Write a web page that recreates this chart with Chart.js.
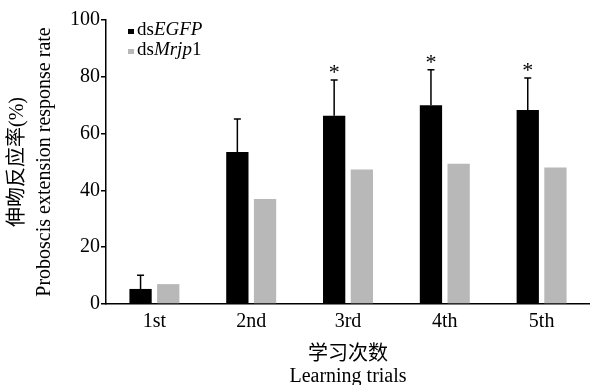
<!DOCTYPE html>
<html>
<head>
<meta charset="utf-8">
<script src="https://cdn.jsdelivr.net/npm/chart.js@4/dist/chart.umd.min.js"></script>
<style>
  body { margin: 0; background: #fff; }
</style>
</head>
<body>
<canvas id="myChart" width="590" height="385"></canvas>
<script>
const trials = ["1st", "2nd", "3rd", "4th", "5th"];
const egfpValues = [5.3, 53.5, 66.3, 70.0, 68.3];
const egfpErrors = [4.8, 11.6, 12.6, 12.5, 11.3];
const mrjpValues = [7.0, 37.0, 47.4, 49.4, 48.1];
const marks = ["", "", "*", "*", "*"];
const yTicks = [0, 20, 40, 60, 80, 100];

const serif = "'Liberation Serif', 'Noto Sans CJK SC', serif";

// error bars (upper only) + significance stars
const errorBars = {
    id: 'errorBars',
    afterDatasetsDraw(chart) {
        const ctx = chart.ctx;
        const y = chart.scales.y;
        const meta = chart.getDatasetMeta(0);
        ctx.save();
        ctx.strokeStyle = '#000';
        ctx.lineWidth = 1.5;
        meta.data.forEach((bar, i) => {
            const top = y.getPixelForValue(egfpValues[i] + egfpErrors[i]);
            ctx.beginPath();
            ctx.moveTo(bar.x, bar.y);
            ctx.lineTo(bar.x, top);
            ctx.moveTo(bar.x - 3.5, top);
            ctx.lineTo(bar.x + 3.5, top);
            ctx.stroke();
            if (marks[i]) {
                ctx.fillStyle = '#000';
                ctx.font = "22px " + serif;
                ctx.textAlign = 'center';
                ctx.textBaseline = 'alphabetic';
                ctx.fillText(marks[i], bar.x, top - 1);
            }
        });
        ctx.restore();
    }
};

// legend with italic gene names
const geneLegend = {
    id: 'geneLegend',
    afterDraw(chart) {
        const ctx = chart.ctx;
        const rows = [
            { color: '#000', parts: [["ds", false], ["EGFP", true]] },
            { color: '#b8b8b8', parts: [["ds", false], ["Mrjp", true], ["1", false]] }
        ];
        ctx.save();
        ctx.textBaseline = 'alphabetic';
        ctx.textAlign = 'left';
        rows.forEach((row, r) => {
            const base = 35 + r * 20;
            ctx.fillStyle = row.color;
            ctx.fillRect(128, base - 6, 6, 5);
            ctx.fillStyle = '#000';
            let x = 137;
            row.parts.forEach(([t, it]) => {
                ctx.font = (it ? "italic " : "") + "19px " + serif;
                ctx.fillText(t, x, base);
                x += ctx.measureText(t).width;
            });
        });
        ctx.restore();
    }
};

new Chart(document.getElementById('myChart'), {
    type: 'bar',
    data: {
        labels: trials,
        datasets: [{
            label: 'dsEGFP',
            data: egfpValues,
            backgroundColor: '#000',
            categoryPercentage: 0.572,
            barPercentage: 0.805
        }, {
            label: 'dsMrjp1',
            data: mrjpValues,
            backgroundColor: '#b8b8b8',
            categoryPercentage: 0.572,
            barPercentage: 0.805
        }]
    },
    options: {
        responsive: false,
        animation: false,
        layout: { padding: { top: 20, left: 0, right: 0, bottom: 0 } },
        plugins: {
            legend: { display: false },
            tooltip: { enabled: false }
        },
        scales: {
            x: {
                grid: { display: false },
                border: { display: true, color: '#000', width: 1.5 },
                ticks: {
                    color: '#000',
                    padding: -2,
                    font: { family: serif, size: 20 }
                },
                title: {
                    display: true,
                    text: ['学习次数', 'Learning trials'],
                    color: '#000',
                    font: { family: serif, size: 20, lineHeight: 1.1 },
                    padding: { top: 0, bottom: -3 }
                },
                afterFit(scale) { scale.height = 81; }
            },
            y: {
                min: 0,
                max: 100,
                afterBuildTicks(scale) { scale.ticks = yTicks.map(v => ({ value: v })); },
                grid: {
                    display: true,
                    drawOnChartArea: false,
                    drawTicks: true,
                    tickLength: 5,
                    color: '#000',
                    lineWidth: 1.5
                },
                border: { display: true, color: '#000', width: 1.5 },
                ticks: {
                    color: '#000',
                    padding: 1,
                    font: { family: serif, size: 20 }
                },
                title: {
                    display: true,
                    text: ['伸吻反应率(%)', 'Proboscis extension response rate'],
                    color: '#000',
                    font: { family: serif, size: 20, lineHeight: 1.35 },
                    padding: { top: 4, bottom: 0 }
                },
                afterFit(scale) { scale.width = 106; }
            }
        }
    },
    plugins: [errorBars, geneLegend]
});
</script>
</body>
</html>
